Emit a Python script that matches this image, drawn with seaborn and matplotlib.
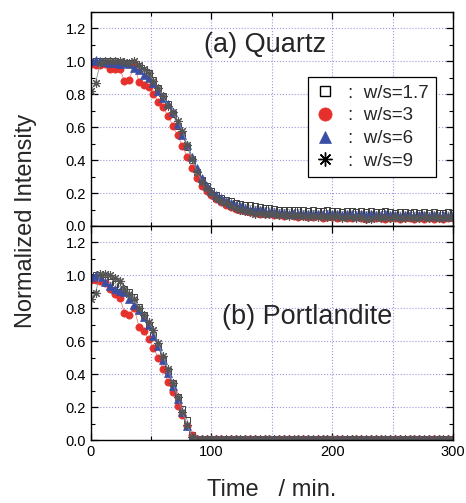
import matplotlib
matplotlib.use("Agg")
import matplotlib.pyplot as plt
import seaborn as sns
import pandas as pd
from matplotlib.lines import Line2D
from matplotlib.ticker import MultipleLocator, FormatStrFormatter

# ---------------- data ----------------
TIME = list(range(0, 301, 4))  # min, 76 scans

LABELS = ["w/s=1.7", "w/s=3", "w/s=6", "w/s=9"]

# (a) Quartz
Q_17 = [0.99, 1.00, 1.00, 1.00, 1.00, 1.00, 0.995, 0.99, 0.99, 0.985,
        0.97, 0.95, 0.93, 0.89, 0.84, 0.79, 0.74, 0.68, 0.61, 0.55,
        0.48, 0.40, 0.33, 0.28, 0.24, 0.21, 0.19, 0.17, 0.16, 0.15,
        0.14, 0.135, 0.13, 0.125, 0.12, 0.115, 0.11, 0.11, 0.105, 0.10,
        0.10, 0.10, 0.095, 0.10, 0.095, 0.09, 0.095, 0.09, 0.09, 0.095,
        0.09, 0.09, 0.085, 0.09, 0.09, 0.085, 0.09, 0.085, 0.09, 0.085,
        0.085, 0.09, 0.085, 0.08, 0.085, 0.085, 0.08, 0.085, 0.08, 0.085,
        0.08, 0.085, 0.08, 0.08, 0.085, 0.08]
Q_3 = [0.985, 0.98, 0.98, 0.985, 0.955, 0.955, 0.955, 0.88, 0.885, 0.99,
       0.875, 0.855, 0.845, 0.80, 0.755, 0.72, 0.67, 0.61, 0.55, 0.485,
       0.42, 0.35, 0.29, 0.245, 0.21, 0.19, 0.165, 0.145, 0.13, 0.115,
       0.105, 0.095, 0.09, 0.085, 0.08, 0.075, 0.07, 0.07, 0.065, 0.065,
       0.06, 0.065, 0.06, 0.055, 0.06, 0.055, 0.055, 0.06, 0.05, 0.055,
       0.055, 0.05, 0.055, 0.05, 0.05, 0.055, 0.05, 0.045, 0.05, 0.05,
       0.05, 0.045, 0.05, 0.05, 0.045, 0.05, 0.05, 0.045, 0.05, 0.045,
       0.05, 0.045, 0.05, 0.045, 0.05, 0.05]
Q_6 = [1.00, 1.01, 1.00, 0.995, 0.99, 0.99, 0.985, 0.99, 0.985, 0.96,
       0.945, 0.92, 0.90, 0.87, 0.82, 0.78, 0.74, 0.69, 0.62, 0.55,
       0.49, 0.42, 0.35, 0.29, 0.24, 0.21, 0.19, 0.17, 0.15, 0.14,
       0.13, 0.12, 0.11, 0.10, 0.10, 0.095, 0.09, 0.085, 0.085, 0.08,
       0.08, 0.075, 0.08, 0.075, 0.075, 0.07, 0.075, 0.07, 0.07, 0.075,
       0.07, 0.07, 0.065, 0.07, 0.07, 0.065, 0.07, 0.065, 0.07, 0.065,
       0.065, 0.07, 0.065, 0.065, 0.06, 0.065, 0.065, 0.06, 0.065, 0.065,
       0.06, 0.065, 0.06, 0.065, 0.06, 0.065]
Q_9 = [0.82, 0.87, 0.99, 1.00, 1.00, 1.00, 1.00, 0.995, 0.99, 1.00,
       0.98, 0.955, 0.93, 0.88, 0.84, 0.79, 0.73, 0.69, 0.64, 0.58,
       0.49, 0.41, 0.33, 0.27, 0.23, 0.20, 0.17, 0.15, 0.14, 0.12,
       0.11, 0.10, 0.09, 0.085, 0.075, 0.08, 0.07, 0.075, 0.07, 0.065,
       0.065, 0.06, 0.065, 0.06, 0.06, 0.055, 0.06, 0.055, 0.06, 0.055,
       0.055, 0.06, 0.05, 0.055, 0.055, 0.05, 0.055, 0.045, 0.04, 0.055,
       0.05, 0.055, 0.05, 0.055, 0.05, 0.05, 0.055, 0.05, 0.05, 0.055,
       0.05, 0.055, 0.05, 0.05, 0.055, 0.05]

# (b) Portlandite
P_17 = [0.99, 1.00, 0.985, 0.97, 0.96, 0.95, 0.935, 0.915, 0.90, 0.87,
        0.81, 0.76, 0.70, 0.64, 0.57, 0.49, 0.42, 0.35, 0.26, 0.19,
        0.12, 0.03, 0.005, 0.005, 0.008, 0.005, 0.005, 0.006, 0.005, 0.005,
        0.006, 0.005, 0.008, 0.005, 0.005, 0.006, 0.005, 0.007, 0.005, 0.005,
        0.006, 0.005, 0.005, 0.007, 0.005, 0.006, 0.005, 0.005, 0.008, 0.005,
        0.006, 0.005, 0.007, 0.005, 0.005, 0.006, 0.005, 0.008, 0.005, 0.005,
        0.006, 0.005, 0.005, 0.007, 0.005, 0.006, 0.005, 0.005, 0.006, 0.005,
        0.007, 0.005, 0.005, 0.006, 0.005, 0.005]
P_3 = [0.975, 0.97, 0.965, 0.955, 0.92, 0.885, 0.865, 0.775, 0.76, 0.80,
       0.69, 0.66, 0.615, 0.56, 0.50, 0.43, 0.355, 0.29, 0.21, 0.155,
       0.085, 0.03, 0.005, 0.006, 0.005, 0.004, 0.006, 0.005, 0.004, 0.005,
       0.006, 0.004, 0.005, 0.005, 0.006, 0.004, 0.005, 0.006, 0.004, 0.005,
       0.005, 0.006, 0.004, 0.005, 0.005, 0.006, 0.004, 0.005, 0.006, 0.005,
       0.008, 0.006, 0.005, 0.004, 0.005, 0.006, 0.005, 0.004, 0.005, 0.006,
       0.005, 0.004, 0.005, 0.006, 0.005, 0.004, 0.005, 0.006, 0.005, 0.004,
       0.005, 0.006, 0.005, 0.004, 0.005, 0.005]
P_6 = [0.99, 1.00, 0.99, 0.96, 0.935, 0.915, 0.905, 0.90, 0.86, 0.82,
       0.79, 0.75, 0.70, 0.63, 0.57, 0.49, 0.41, 0.33, 0.25, 0.17,
       0.085, 0.02, 0.005, 0.006, 0.005, 0.005, 0.007, 0.005, 0.005, 0.006,
       0.005, 0.005, 0.007, 0.005, 0.006, 0.005, 0.005, 0.007, 0.005, 0.006,
       0.005, 0.007, 0.005, 0.005, 0.006, 0.005, 0.007, 0.005, 0.005, 0.006,
       0.005, 0.007, 0.005, 0.006, 0.005, 0.008, 0.005, 0.006, 0.005, 0.005,
       0.007, 0.005, 0.006, 0.005, 0.005, 0.007, 0.005, 0.006, 0.005, 0.005,
       0.007, 0.005, 0.006, 0.005, 0.005, 0.006]
P_9 = [0.86, 0.895, 1.01, 1.01, 1.00, 0.985, 0.965, 0.92, 0.89, 0.86,
       0.80, 0.76, 0.715, 0.67, 0.59, 0.51, 0.43, 0.35, 0.26, 0.17,
       0.09, 0.02, 0.005, 0.006, 0.005, 0.007, 0.005, 0.006, 0.005, 0.005,
       0.007, 0.005, 0.006, 0.005, 0.008, 0.005, 0.006, 0.005, 0.005, 0.007,
       0.005, 0.006, 0.005, 0.005, 0.007, 0.005, 0.006, 0.005, 0.005, 0.007,
       0.005, 0.006, 0.005, 0.005, 0.007, 0.006, 0.009, 0.005, 0.006, 0.005,
       0.005, 0.007, 0.005, 0.006, 0.005, 0.005, 0.007, 0.005, 0.006, 0.005,
       0.005, 0.007, 0.005, 0.006, 0.005, 0.005]

# ---------------- style ----------------
sns.set_style("ticks")
plt.rcParams['font.family'] = ['Liberation Sans', 'DejaVu Sans']

RED = '#e5302b'
BLUE = '#3a4ea6'
STYLES = [
    dict(marker='s', ms=4.5, mfc='none', mec='#3a3a3a', mew=0.7, color='#9a9a9a', lw=0.6),
    dict(marker='o', ms=5.2, mfc=RED, mec=RED, mew=0.5, color='#f08080', lw=0.6),
    dict(marker='^', ms=5.8, mfc=BLUE, mec=BLUE, mew=0.5, color=BLUE, lw=0.6),
    dict(marker=(8, 2, 0), ms=6.5, mfc='none', mec='#555555', mew=0.8, color='#8a8a8a', lw=0.6),
]
LEG_MS = [7.5, 9.5, 9.0, 10.0]

fig = plt.figure(figsize=(4.66, 5.03), dpi=100)
ax1 = fig.add_axes([0.1946, 0.5507, 0.7775, 0.4254])
ax2 = fig.add_axes([0.1946, 0.1247, 0.7775, 0.4260])

panels = [(ax1, [Q_17, Q_3, Q_6, Q_9]), (ax2, [P_17, P_3, P_6, P_9])]
for ax, series in panels:
    for vals, lab, st in zip(series, LABELS, STYLES):
        df = pd.DataFrame({"time": TIME, "val": vals})
        sns.lineplot(data=df, x="time", y="val", ax=ax, estimator=None,
                     errorbar=None, sort=False, legend=False, **st)
    ax.set_xlim(0, 300)
    ax.set_ylim(0, 1.3)
    ax.set_xlabel("")
    ax.set_ylabel("")
    ax.xaxis.set_major_locator(MultipleLocator(100))
    ax.xaxis.set_minor_locator(MultipleLocator(50))
    ax.yaxis.set_major_locator(MultipleLocator(0.2))
    ax.yaxis.set_minor_locator(MultipleLocator(0.1))
    ax.yaxis.set_major_formatter(FormatStrFormatter('%.1f'))
    ax.grid(which='major', axis='y', color='#9a9ae0', linestyle=':', linewidth=0.8)
    ax.grid(which='both', axis='x', color='#9a9ae0', linestyle=':', linewidth=0.8)
    ax.set_axisbelow(True)
    ax.tick_params(which='both', direction='in', top=True, right=True,
                   colors='black', labelsize=10.5)
    ax.tick_params(which='major', length=5, width=0.9)
    ax.tick_params(which='minor', length=3, width=0.8)
    for sp in ax.spines.values():
        sp.set_color('black')
        sp.set_linewidth(1.0)

ax1.tick_params(labelbottom=False)

ax1.text(0.481, 0.846, "(a) Quartz", transform=ax1.transAxes,
         ha='center', va='center', fontsize=19.5)
ax2.text(0.597, 0.576, "(b) Portlandite", transform=ax2.transAxes,
         ha='center', va='center', fontsize=19.5)

handles = []
for st, ms in zip(STYLES, LEG_MS):
    handles.append(Line2D([], [], linestyle='none', marker=st['marker'], ms=ms,
                          mfc=st['mfc'], mec=('black' if st['mfc'] == 'none' else st['mec']),
                          mew=(1.0 if st['mfc'] == 'none' else st['mew'])))
leg = ax1.legend(handles, [":  w/s=" + l.split("=")[1] for l in LABELS],
                 loc='upper right', bbox_to_anchor=(0.953, 0.696), borderaxespad=0,
                 frameon=True, fancybox=False, edgecolor='black', framealpha=1,
                 fontsize=13.5, handletextpad=0.7, labelspacing=0.3,
                 borderpad=0.4, handlelength=1.0)
leg.get_frame().set_linewidth(0.9)

fig.text(0.056, 0.56, "Normalized Intensity", rotation=90, ha='center',
         va='center', fontsize=17)
fig.text(0.584, 0.026, "Time   / min.", ha='center', va='center', fontsize=17)

fig.savefig("out.png", dpi=100)
